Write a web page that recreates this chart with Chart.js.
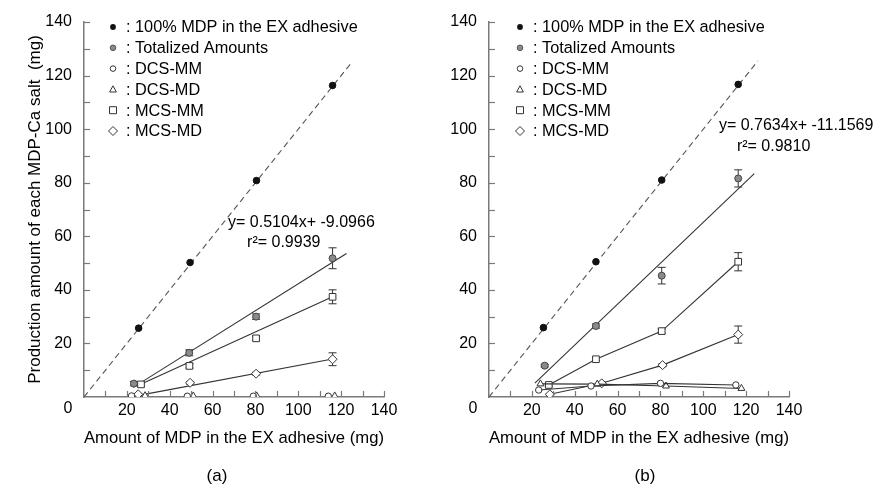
<!DOCTYPE html>
<html><head><meta charset="utf-8">
<script src="https://cdn.jsdelivr.net/npm/chart.js@4.4.0/dist/chart.umd.min.js"></script>
<style>
html,body{margin:0;padding:0;background:#fff;}
#wrap{position:relative;width:879px;height:489px;overflow:hidden;background:#fff;}
#ca{position:absolute;left:0;top:0;}
#cb{position:absolute;left:440px;top:0;}
.cap{position:absolute;top:466px;font:17px "Liberation Sans",Arial,sans-serif;color:#000;transform:translateX(-50%);line-height:20px;}
</style></head><body>
<div id="wrap">
<canvas id="ca" width="440" height="489"></canvas>
<canvas id="cb" width="439" height="489"></canvas>
<div class="cap" style="left:217px">(a)</div>
<div class="cap" style="left:645px">(b)</div>
</div>
<script>
// ---------- labels ----------
const seriesNames = ['100% MDP in the EX adhesive', 'Totalized Amounts', 'DCS-MM', 'DCS-MD', 'MCS-MM', 'MCS-MD'];
const xTitle = 'Amount of MDP in the EX adhesive (mg)';
const yTitle = 'Production amount of each MDP-Ca salt  (mg)';
const axisMin = 0, axisMax = 140, tickStep = 10, labelStep = 20;

// ---------- chart (a) ----------
const a_refX = [0, 125];
const a_refY = [0, 125];
const a_mdpX = [25.5, 49.5, 80.5, 116.0];
const a_mdpY = [25.7, 50.2, 80.8, 116.3];
const a_totX = [23.3, 49.1, 80.3, 116.0];
const a_totY = [5.0, 16.5, 30.0, 51.8];
const a_totErr = [0.8, 1.1, 1.0, 3.9];
const a_totFitX = [23.0, 122.5];
const a_totFitY = [3.6, 53.6];
const a_dcsmmX = [22.2, 48.2, 79.0, 114.0];
const a_dcsmmY = [0.4, 0.3, 0.3, 0.3];
const a_dcsmdX = [28.5, 51.0, 80.6, 117.0];
const a_dcsmdY = [0.5, 0.4, 0.4, 0.4];
const a_mcsmmX = [26.6, 49.2, 80.3, 116.0];
const a_mcsmmY = [4.7, 11.6, 21.9, 37.4];
const a_mcsmmErr = [0.5, 0.8, 0.8, 2.6];
const a_mcsmmFitX = [26.5, 116.0];
const a_mcsmmFitY = [4.8, 37.4];
const a_mcsmdX = [25.3, 49.5, 80.3, 116.0];
const a_mcsmdY = [1.0, 5.3, 8.7, 14.1];
const a_mcsmdErr = [0.3, 0.5, 0.5, 2.4];
const a_mcsmdFitX = [27.5, 116.0];
const a_mcsmdFitY = [0.9, 14.2];
const a_eqText = ['y= 0.5104x+ -9.0966', 'r\u00B2= 0.9939'];

// ---------- chart (b) ----------
const b_refX = [0, 125.5];
const b_refY = [0, 125.5];
const b_mdpX = [25.4, 49.9, 80.6, 116.3];
const b_mdpY = [25.9, 50.5, 81.0, 116.7];
const b_totX = [26.0, 49.9, 80.6, 116.3];
const b_totY = [11.7, 26.5, 45.3, 81.6];
const b_totErr = [0.5, 0.8, 3.1, 3.2];
const b_totFitX = [21.4, 123.8];
const b_totFitY = [5.2, 83.4];
const b_dcsmmX = [23.2, 47.6, 80.0, 115.2];
const b_dcsmmY = [2.6, 4.1, 5.1, 4.5];
const b_dcsmdX = [24.0, 50.5, 82.6, 117.8];
const b_dcsmdY = [4.9, 4.8, 4.1, 3.2];
const b_mcsmmX = [27.9, 49.9, 80.6, 116.3];
const b_mcsmmY = [4.5, 14.1, 24.6, 50.5];
const b_mcsmmErr = [0.5, 0.5, 0.8, 3.4];
const b_mcsmdX = [28.4, 52.6, 81.0, 116.3];
const b_mcsmdY = [1.0, 5.1, 11.9, 23.3];
const b_mcsmdErr = [0.3, 0.5, 0.6, 3.2];
const b_eqText = ['y= 0.7634x+ -11.1569', 'r\u00B2= 0.9810'];

// ---------- styling / layout (not data) ----------
const FONT = "'Liberation Sans', Arial, Helvetica, sans-serif";
const TXT = '#000';
const AXIS = '#7a7a7a';
const LINE = '#333';
Chart.defaults.font.family = FONT;
Chart.defaults.color = TXT;

const pts = (xs, ys) => xs.map((x, i) => ({x: x, y: ys[i]}));

function lineDS(xs, ys, dash) {
  return {data: pts(xs, ys), showLine: true, borderColor: dash ? '#555' : LINE, borderWidth: 1.1,
          borderDash: dash ? [6, 4] : [], pointRadius: 0, order: 3, fill: false};
}
function markDS(xs, ys, style, r, bg, opts) {
  return Object.assign({data: pts(xs, ys), showLine: false, pointStyle: style, pointRadius: r,
          pointBackgroundColor: bg, pointBorderColor: '#333', pointBorderWidth: 1,
          borderColor: LINE, borderWidth: 1.1, order: 1}, opts || {});
}

// error bars drawn through the scales
const errorBars = {
  id: 'errorBars',
  beforeDatasetsDraw(chart) {
    const {ctx, scales: {x, y}} = chart;
    ctx.save();
    ctx.strokeStyle = '#333'; ctx.lineWidth = 1;
    chart.data.datasets.forEach(ds => {
      if (!ds.errors) return;
      ds.data.forEach((p, i) => {
        const e = ds.errors[i];
        const px = x.getPixelForValue(p.x);
        const y1 = y.getPixelForValue(p.y + e), y2 = y.getPixelForValue(p.y - e);
        ctx.beginPath();
        ctx.moveTo(px, y1); ctx.lineTo(px, y2);
        ctx.moveTo(px - 4, y1); ctx.lineTo(px + 4, y1);
        ctx.moveTo(px - 4, y2); ctx.lineTo(px + 4, y2);
        ctx.stroke();
      });
    });
    ctx.restore();
  }
};

// inward tick marks + corner "0"
const axisDecor = {
  id: 'axisDecor',
  afterDraw(chart) {
    const {ctx, chartArea: a, scales: {x, y}} = chart;
    ctx.save();
    ctx.strokeStyle = AXIS; ctx.lineWidth = 1.2;
    x.ticks.forEach(t => {
      if (t.value <= axisMin) return;
      const px = Math.round(x.getPixelForValue(t.value)) + 0.5;
      ctx.beginPath(); ctx.moveTo(px, a.bottom); ctx.lineTo(px, a.bottom - 6); ctx.stroke();
    });
    y.ticks.forEach(t => {
      if (t.value <= axisMin) return;
      const py = Math.round(y.getPixelForValue(t.value)) + 0.5;
      ctx.beginPath(); ctx.moveTo(a.left, py); ctx.lineTo(a.left + 6, py); ctx.stroke();
    });
    ctx.fillStyle = TXT; ctx.font = '16px ' + FONT;
    ctx.textAlign = 'center'; ctx.textBaseline = 'middle';
    ctx.fillText(String(axisMin), a.left - 16, a.bottom + 12);
    ctx.restore();
  }
};

function drawSymbol(ctx, kind, cx, cy) {
  ctx.save();
  ctx.lineWidth = 1; ctx.strokeStyle = '#333'; ctx.fillStyle = '#fff';
  ctx.beginPath();
  if (kind === 0) { ctx.arc(cx, cy, 2.9, 0, Math.PI * 2); ctx.fillStyle = '#111'; ctx.fill(); }
  else if (kind === 1) { ctx.arc(cx, cy, 2.8, 0, Math.PI * 2); ctx.fillStyle = '#8a8a8a'; ctx.fill(); ctx.strokeStyle = '#555'; ctx.stroke(); }
  else if (kind === 2) { ctx.arc(cx, cy, 2.8, 0, Math.PI * 2); ctx.fill(); ctx.stroke(); }
  else if (kind === 3) { ctx.moveTo(cx, cy - 3.6); ctx.lineTo(cx + 3.4, cy + 2.6); ctx.lineTo(cx - 3.4, cy + 2.6); ctx.closePath(); ctx.fill(); ctx.stroke(); }
  else if (kind === 4) { ctx.rect(cx - 3.5, cy - 3.5, 7, 7); ctx.fill(); ctx.stroke(); }
  else { ctx.moveTo(cx, cy - 4.5); ctx.lineTo(cx + 4.5, cy); ctx.lineTo(cx, cy + 4.5); ctx.lineTo(cx - 4.5, cy); ctx.closePath(); ctx.fill(); ctx.stroke(); }
  ctx.restore();
}

function makeLegendPlugin(symDx) {
  return {
    id: 'inLegend',
    afterDraw(chart) {
      const {ctx, chartArea: a} = chart;
      ctx.save();
      ctx.font = '16.3px ' + FONT; ctx.fillStyle = TXT;
      ctx.textAlign = 'left'; ctx.textBaseline = 'middle';
      seriesNames.forEach((name, i) => {
        const cy = a.top + 5 + i * 20.8;
        const cx = a.left + symDx;
        drawSymbol(ctx, i, cx, cy);
        ctx.fillStyle = TXT;
        ctx.fillText(': ' + name, cx + 13, cy + 1);
      });
      ctx.restore();
    }
  };
}

function makeEqPlugin(lines, anchors) {
  return {
    id: 'eqText',
    afterDraw(chart) {
      const {ctx, scales: {x, y}} = chart;
      ctx.save();
      ctx.font = '16px ' + FONT; ctx.fillStyle = TXT;
      ctx.textAlign = 'left'; ctx.textBaseline = 'middle';
      lines.forEach((t, i) => ctx.fillText(t, x.getPixelForValue(anchors[i][0]), y.getPixelForValue(anchors[i][1])));
      ctx.restore();
    }
  };
}

function makeChart(canvas, datasets, o) {
  return new Chart(canvas, {
    type: 'scatter',
    data: {datasets: datasets},
    options: {
      responsive: false, animation: false,
      layout: {padding: {top: 22, right: o.padRight, bottom: 40, left: 0}},
      plugins: {legend: {display: false}, tooltip: {enabled: false}, title: {display: false}},
      scales: {
        x: {
          type: 'linear', min: axisMin, max: axisMax,
          ticks: {stepSize: tickStep, autoSkip: false, maxRotation: 0, padding: 4, color: TXT,
                  font: {size: 16}, callback: v => (v % labelStep === 0 && v > axisMin) ? String(v) : ''},
          grid: {display: true, drawOnChartArea: false, drawTicks: false},
          border: {display: true, color: AXIS, width: 1.5},
          title: {display: true, text: xTitle, color: TXT, font: {size: 17}, padding: {top: 0, bottom: 0}},
          afterFit: s => { s.height = 52; }
        },
        y: {
          type: 'linear', min: axisMin, max: axisMax,
          ticks: {stepSize: tickStep, autoSkip: false, padding: 12, color: TXT,
                  font: {size: 16}, callback: v => (v % labelStep === 0 && v > axisMin) ? String(v) : ''},
          grid: {display: true, drawOnChartArea: false, drawTicks: false},
          border: {display: true, color: AXIS, width: 1.5},
          title: {display: o.yTitle, text: yTitle, color: TXT, font: {size: 17}, padding: {top: 25, bottom: 0}},
          afterFit: s => { s.width = o.yWidth; }
        }
      }
    },
    plugins: [errorBars, axisDecor, makeLegendPlugin(o.symDx), makeEqPlugin(o.eq, o.eqAt)]
  });
}

// (a)
makeChart(document.getElementById('ca'), [
  markDS(a_mdpX, a_mdpY, 'circle', 3.3, '#111', {pointBorderColor: '#111'}),
  markDS(a_totX, a_totY, 'circle', 3.5, '#8a8a8a', {errors: a_totErr, pointBorderColor: '#444'}),
  markDS(a_dcsmmX, a_dcsmmY, 'circle', 3.2, '#fff'),
  markDS(a_dcsmdX, a_dcsmdY, 'triangle', 4, '#fff'),
  markDS(a_mcsmmX, a_mcsmmY, 'rect', 4.7, '#fff', {errors: a_mcsmmErr}),
  markDS(a_mcsmdX, a_mcsmdY, 'rectRot', 4.5, '#fff', {errors: a_mcsmdErr}),
  lineDS(a_refX, a_refY, true),
  lineDS(a_totFitX, a_totFitY, false),
  lineDS(a_mcsmmFitX, a_mcsmmFitY, false),
  lineDS(a_mcsmdFitX, a_mcsmdFitY, false)
], {padRight: 56, yWidth: 84, yTitle: true, symDx: 29, eq: a_eqText, eqAt: [[67.2, 65.0], [76.1, 57.5]]});

// (b)
makeChart(document.getElementById('cb'), [
  markDS(b_mdpX, b_mdpY, 'circle', 3.3, '#111', {pointBorderColor: '#111'}),
  markDS(b_totX, b_totY, 'circle', 3.5, '#8a8a8a', {errors: b_totErr, pointBorderColor: '#444'}),
  markDS(b_dcsmmX, b_dcsmmY, 'circle', 3.2, '#fff', {showLine: true}),
  markDS(b_dcsmdX, b_dcsmdY, 'triangle', 4, '#fff', {showLine: true}),
  markDS(b_mcsmmX, b_mcsmmY, 'rect', 4.7, '#fff', {errors: b_mcsmmErr, showLine: true}),
  markDS(b_mcsmdX, b_mcsmdY, 'rectRot', 4.5, '#fff', {errors: b_mcsmdErr, showLine: true}),
  lineDS(b_refX, b_refY, true),
  lineDS(b_totFitX, b_totFitY, false)
], {padRight: 90, yWidth: 49, yTitle: false, symDx: 31, eq: b_eqText, eqAt: [[107.3, 101.5], [115.7, 93.3]]});
</script>
</body></html>
